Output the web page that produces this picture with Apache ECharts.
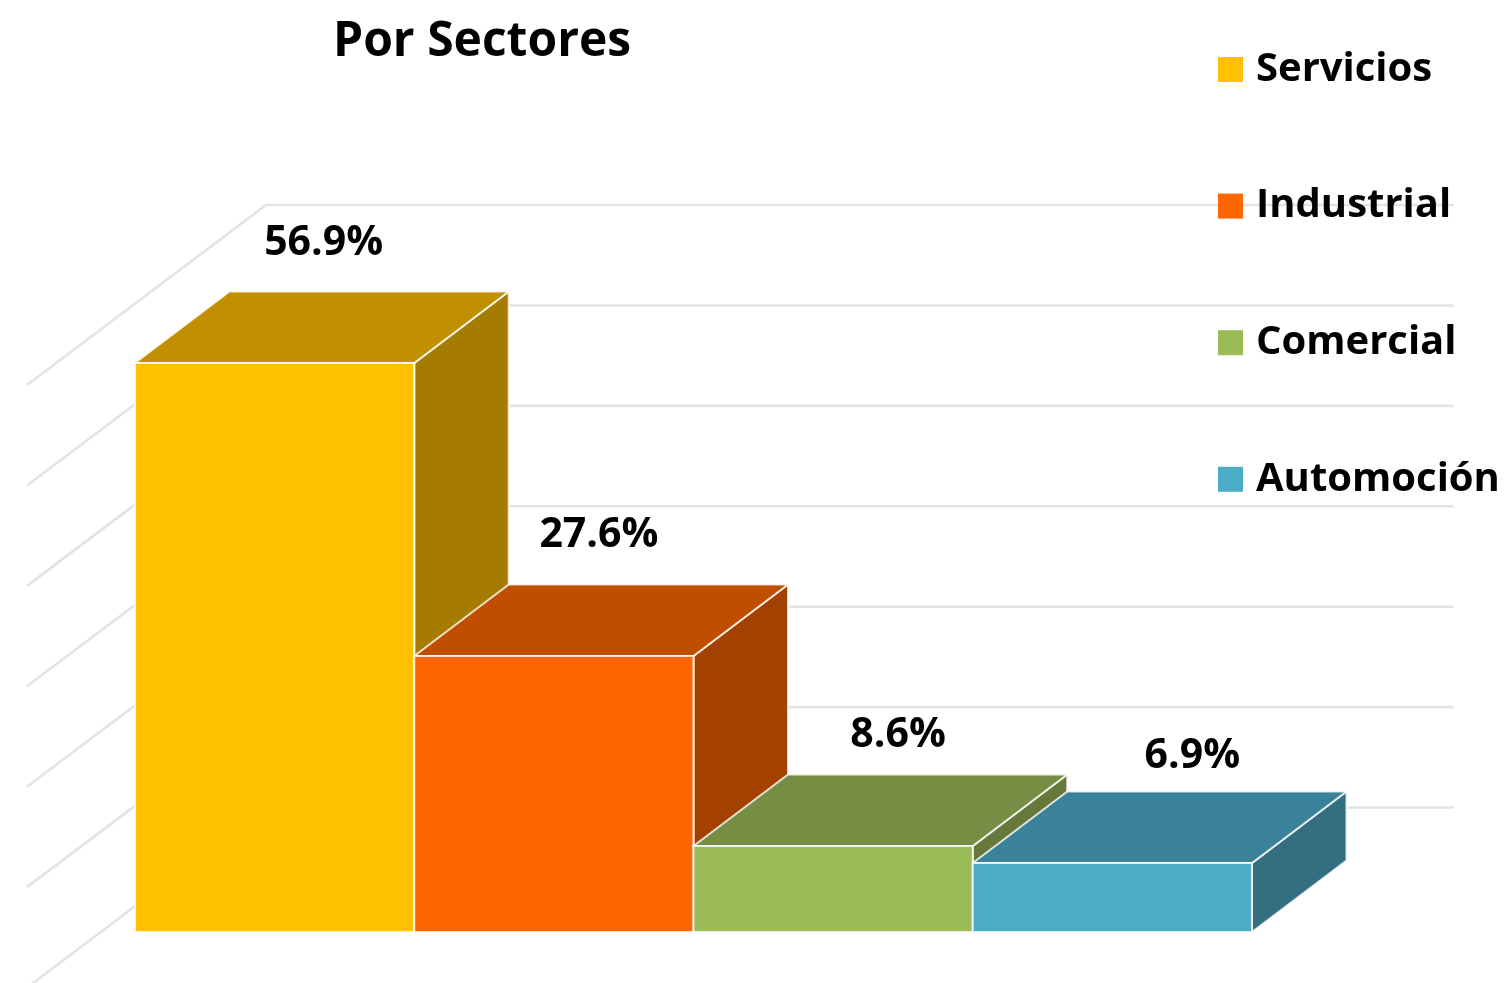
<!DOCTYPE html>
<html>
<head>
<meta charset="utf-8">
<style>html,body{margin:0;padding:0;background:#fff}#c{width:1509px;height:983px}</style>
<script src="https://cdn.jsdelivr.net/npm/echarts@6/dist/echarts.min.js"></script>
</head>
<body>
<div id="c"></div>
<script>
const sectors = ['Servicios', 'Industrial', 'Comercial', 'Automoción'];
const shares = [56.9, 27.6, 8.6, 6.9];
const gridLevels = [10, 20, 30, 40, 50, 60, 70];
const frontColors = ['#FFC000', '#FF6600', '#9BBB59', '#4BACC6'];
const topColors = ['#C09000', '#C04D00', '#768E43', '#3A8299'];
const sideColors = ['#A67C00', '#A34200', '#66793A', '#336F80'];
const labelShift = [[49, -120], [45, -121], [65, -111], [80, -107]];
const FONT = '"Open Sans", "Noto Sans", sans-serif';
const DX = 94.5, DY = -71.5;
const WALL_DX = -239, WALL_DY = 180;
const EDGE = 'rgba(255,255,255,0.8)';

function renderBar(i) {
  return function (params, api) {
    const top = api.coord([i, shares[i]]);
    const base = api.coord([i, 0]);
    const w = api.size([1, 0])[0];
    const x0 = top[0] - w / 2, x1 = top[0] + w / 2, yT = top[1], yB = base[1];
    const face = (pts, fill) => ({
      type: 'polygon', shape: { points: pts },
      style: { fill: fill, stroke: EDGE, lineWidth: 2, lineJoin: 'round' }
    });
    return {
      type: 'group',
      children: [
        face([[x1, yT], [x1 + DX, yT + DY], [x1 + DX, yB + DY], [x1, yB]], sideColors[i]),
        face([[x0, yT], [x0 + DX, yT + DY], [x1 + DX, yT + DY], [x1, yT]], topColors[i]),
        face([[x0, yT], [x1, yT], [x1, yB], [x0, yB]], frontColors[i]),
        {
          type: 'text',
          style: {
            text: shares[i].toFixed(1) + '%',
            x: top[0] + labelShift[i][0], y: yT + labelShift[i][1],
            align: 'center', verticalAlign: 'middle',
            font: 'bold 41px ' + FONT, fill: '#000'
          }
        }
      ]
    };
  };
}

function renderGridLine(params, api) {
  const left = api.coord([0, api.value(0)]);
  const right = api.coord([1, api.value(0)]);
  return {
    type: 'polyline',
    shape: { points: [[left[0] + WALL_DX, left[1] + WALL_DY], left, right] },
    style: { fill: 'none', stroke: '#e3e3e3', lineWidth: 2.6 }
  };
}

const chart = echarts.init(document.getElementById('c'), null, { renderer: 'canvas' });
chart.setOption({
  backgroundColor: '#fff',
  animation: false,
  title: {
    text: 'Por Sectores', left: 328, top: 13,
    textStyle: { fontFamily: FONT, fontWeight: 'bold', fontSize: 48, color: '#000' }
  },
  legend: {
    orient: 'vertical', left: 1213, top: 44.5,
    data: sectors, icon: 'rect', itemWidth: 25, itemHeight: 25, itemGap: 96.6,
    selectedMode: false,
    textStyle: { fontFamily: FONT, fontWeight: 'bold', fontSize: 40, color: '#000', lineHeight: 25, padding: [0, 0, 0, 8] }
  },
  grid: [
    { left: 135, width: 1117, top: 232, height: 700 },
    { left: 266, width: 1188, top: 205, height: 703 }
  ],
  xAxis: [
    { type: 'category', gridIndex: 0, data: sectors, show: false },
    { type: 'value', gridIndex: 1, min: 0, max: 1, show: false }
  ],
  yAxis: [
    { type: 'value', gridIndex: 0, min: 0, max: 70, show: false },
    { type: 'value', gridIndex: 1, min: 0, max: 70, show: false }
  ],
  series: [
    {
      type: 'custom', name: 'grid', xAxisIndex: 1, yAxisIndex: 1, z: 1,
      renderItem: renderGridLine, encode: { y: 0 }, silent: true,
      data: gridLevels.map(v => [v])
    }
  ].concat(sectors.map((name, i) => ({
    type: 'custom', name: name, xAxisIndex: 0, yAxisIndex: 0, z: 2 + i,
    itemStyle: { color: frontColors[i] },
    renderItem: renderBar(i), encode: { x: 0, y: 1 },
    data: [[i, shares[i]]]
  })))
});
</script>
</body>
</html>
